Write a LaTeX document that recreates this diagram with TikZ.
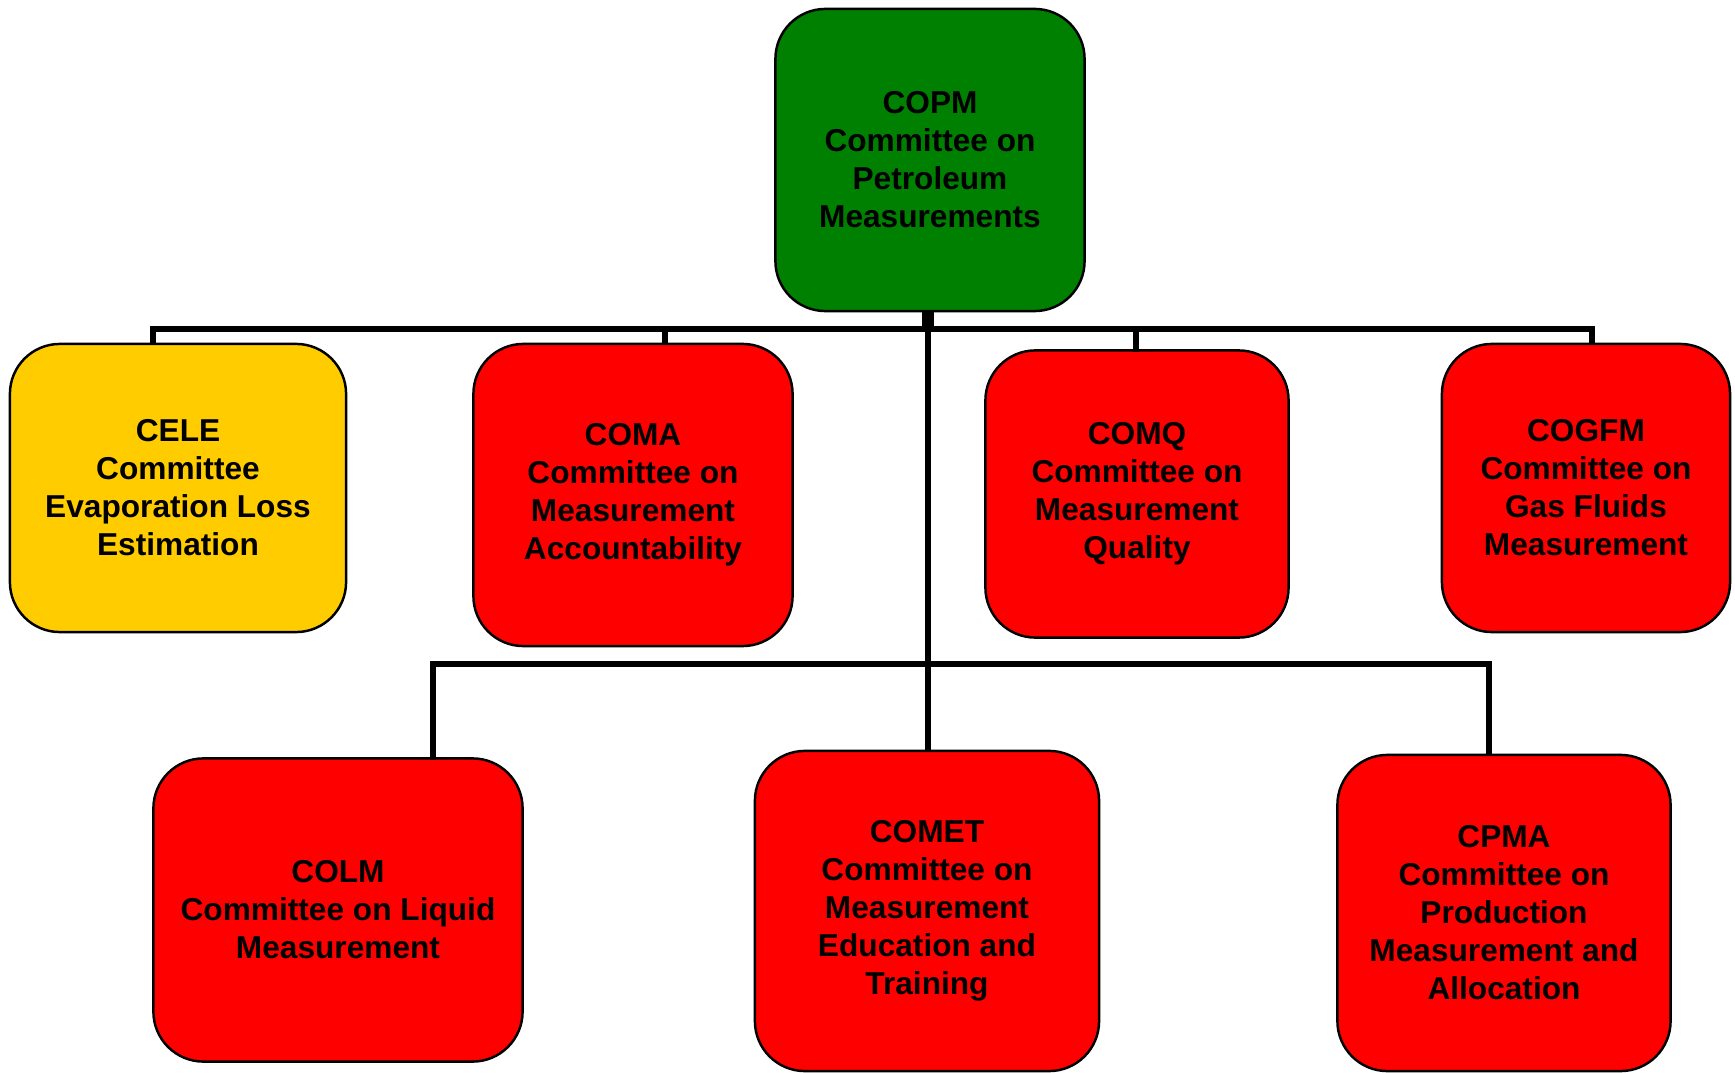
\documentclass[tikz,border=0pt]{standalone}
\usepackage{fontspec}
\setmainfont{Liberation Sans}
\usetikzlibrary{positioning}

\definecolor{copmgreen}{HTML}{008000}
\definecolor{comred}{HTML}{FF0000}
\definecolor{celeyellow}{HTML}{FFCC00}

\tikzset{
    unit/.style={
        draw=black, line width=0.7pt, rounded corners=0.5cm,
        align=center, inner sep=0pt,
        font=\bfseries\fontsize{9}{10.8}\selectfont
    },
    redunit/.style={unit, fill=comred},
    link/.style={line width=1.6pt, line cap=rect}
}

\begin{document}
\begin{tikzpicture}[x=0.01cm, y=-0.01cm]

    \useasboundingbox (0,0) rectangle (1735,1073);

    % top committee
    \node[unit, fill=copmgreen, minimum width=3.09cm, minimum height=3.02cm]
        (copm) at (930,160) {COPM\\ Committee on\\Petroleum\\Measurements};

    % first row
    \node[unit, fill=celeyellow, minimum width=3.36cm, minimum height=2.88cm]
        (cele) at (178,488) {CELE\\Committee\\Evaporation Loss\\Estimation};
    \node[redunit, minimum width=3.19cm, minimum height=3.02cm]
        (coma) at (633,495) {COMA\\Committee on\\Measurement\\Accountability};
    \node[redunit, minimum width=3.03cm, minimum height=2.87cm]
        (comq) at (1137,494) {COMQ\\Committee on\\Measurement\\Quality};
    \node[redunit, minimum width=2.88cm, minimum height=2.88cm]
        (cogfm) at (1586,488) {COGFM\\Committee on\\Gas Fluids\\Measurement};

    % second row
    \node[redunit, minimum width=3.69cm, minimum height=3.03cm]
        (colm) at (338,910) {COLM\\Committee on Liquid\\Measurement};
    \node[redunit, minimum width=3.44cm, minimum height=3.20cm]
        (comet) at (927,911) {COMET\\Committee on\\Measurement\\Education and\\Training};
    \node[redunit, minimum width=3.33cm, minimum height=3.16cm]
        (cpma) at (1504,913) {CPMA\\Committee on\\Production\\Measurement and\\Allocation};

    % bus junctions
    \coordinate (hub) at (928,329);
    \coordinate (jcele) at (153,329);
    \coordinate (jcoma) at (665,329);
    \coordinate (jcomq) at (1136,329);
    \coordinate (jcogfm) at (1592,329);
    \coordinate (hubb) at (928,664);
    \coordinate (jcolm) at (433,664);
    \coordinate (jcpma) at (1489,664);

    % connectors
    \draw[line width=3.6pt] (copm.south -| hub) -- (hub);
    \draw[link] (jcele) -- (jcogfm);
    \draw[link] (jcele) -- (jcele |- cele.north);
    \draw[link] (jcoma) -- (jcoma |- coma.north);
    \draw[link] (jcomq) -- (jcomq |- comq.north);
    \draw[link] (jcogfm) -- (jcogfm |- cogfm.north);
    \draw[link] (hub) -- (hub |- comet.north);
    \draw[link] (jcolm) -- (jcpma);
    \draw[link] (jcolm) -- (jcolm |- colm.north);
    \draw[link] (jcpma) -- (jcpma |- cpma.north);

\end{tikzpicture}
\end{document}
